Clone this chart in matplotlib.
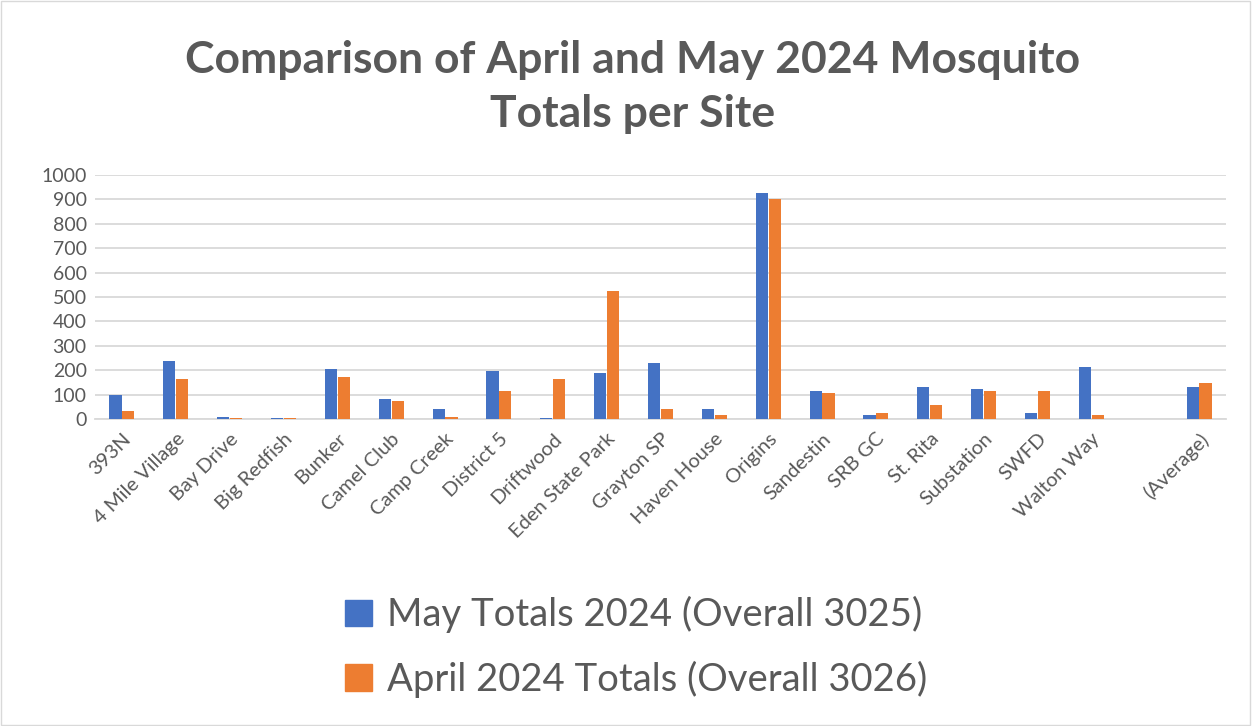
import matplotlib
matplotlib.use("Agg")
import matplotlib.pyplot as plt
import numpy as np
from matplotlib.patches import Rectangle, Patch

categories = ["393N", "4 Mile Village", "Bay Drive", "Big Redfish", "Bunker", "Camel Club",
              "Camp Creek", "District 5", "Driftwood", "Eden State Park", "Grayton SP",
              "Haven House", "Origins", "Sandestin", "SRB GC", "St. Rita", "Substation",
              "SWFD", "Walton Way", "", "(Average)"]
may_2024 = [100, 238, 7, 4, 205, 82, 41, 196, 3, 188, 229, 40, 926, 114, 15, 131, 123, 23, 213, np.nan, 131]
april_2024 = [33, 164, 4, 4, 172, 73, 7, 114, 164, 524, 40, 15, 901, 106, 23, 56, 114, 114, 15, np.nan, 146]
series_labels = ["May Totals 2024 (Overall 3025)", "April 2024 Totals (Overall 3026)"]
title = "Comparison of April and May 2024 Mosquito\nTotals per Site"
yticks = [0, 100, 200, 300, 400, 500, 600, 700, 800, 900, 1000]

BLUE = "#4472C4"
ORANGE = "#ED7D31"
TXT = "#595959"
FONT = ["Lato", "DejaVu Sans"]
plt.rcParams["font.family"] = FONT

fig = plt.figure(figsize=(12.53, 7.26), dpi=100)
ax = fig.add_axes([95/1253, 1 - 419/726, (1226-95)/1253, (419-175)/726])

x = np.arange(len(categories))
w = 0.225
ax.bar(x - 0.12, may_2024, width=w, color=BLUE, label=series_labels[0], zorder=3)
ax.bar(x + 0.12, april_2024, width=w, color=ORANGE, label=series_labels[1], zorder=3)

ax.set_xlim(-0.5, len(categories) - 0.5)
ax.set_ylim(0, 1000)
ax.set_yticks(yticks)
ax.set_yticklabels([str(v) for v in yticks], fontsize=14, color=TXT)
ax.set_xticks(x)
ax.set_xticklabels(categories, rotation=45, ha="right", rotation_mode="anchor",
                   fontsize=14.5, color=TXT)
ax.tick_params(axis="both", length=0, pad=6)
ax.tick_params(axis="x", pad=8)
ax.yaxis.grid(True, color="#D9D9D9", linewidth=1.3, zorder=0)
for s in ["top", "right", "left"]:
    ax.spines[s].set_visible(False)
ax.spines["bottom"].set_color("#D9D9D9")
ax.spines["bottom"].set_linewidth(1.3)

fig.text(0.505, 1 - 87/726, title, ha="center", va="center", fontsize=32,
         fontweight="bold", color=TXT, linespacing=1.45)

handles = [Patch(color=BLUE), Patch(color=ORANGE)]
fig.legend(handles, series_labels, loc="center", bbox_to_anchor=(0.508, 1 - 647/726),
           frameon=False, fontsize=27.5, labelcolor=TXT, handlelength=0.7, handleheight=0.7,
           labelspacing=0.72, handletextpad=0.4)

fig.patches.append(Rectangle((0.001, 0.001), 0.997, 0.997, transform=fig.transFigure,
                             fill=False, edgecolor="#D9D9D9", linewidth=1))

fig.savefig("out.png", dpi=100, facecolor="white")
